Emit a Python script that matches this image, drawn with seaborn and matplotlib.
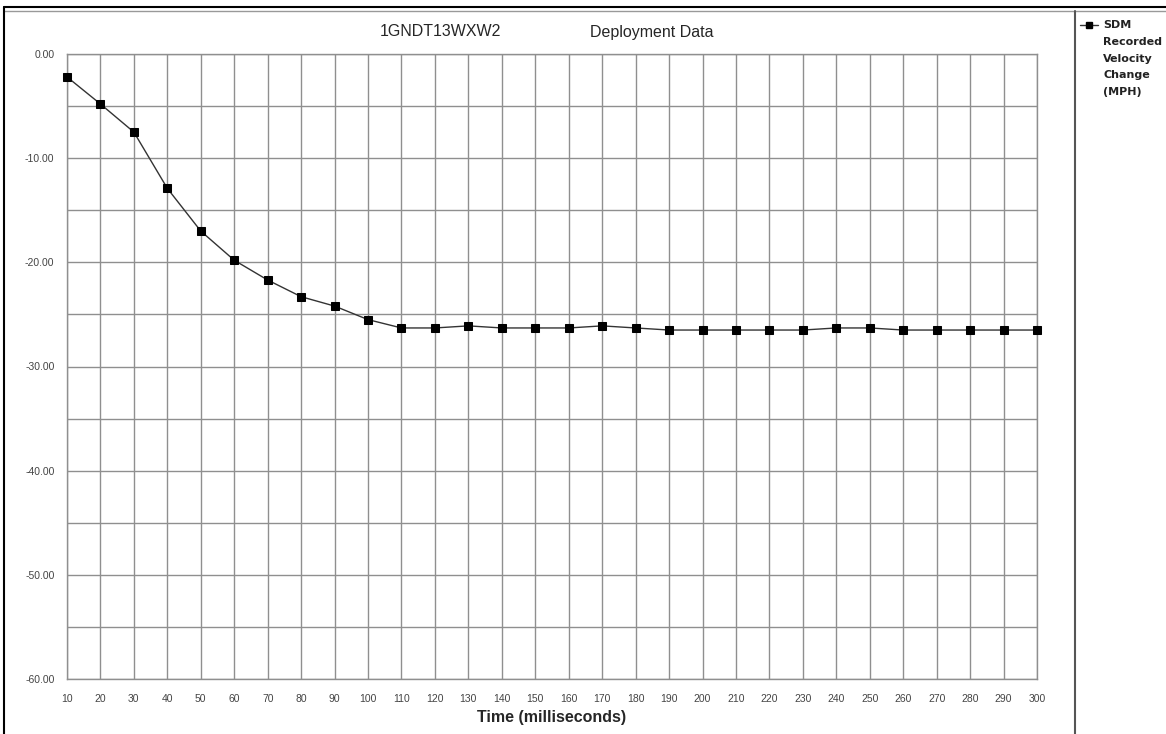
import matplotlib
matplotlib.use("Agg")
import matplotlib.pyplot as plt
from matplotlib.lines import Line2D
import seaborn as sns
import pandas as pd
import numpy as np

time_ms = [10, 20, 30, 40, 50, 60, 70, 80, 90, 100, 110, 120, 130, 140, 150,
           160, 170, 180, 190, 200, 210, 220, 230, 240, 250, 260, 270, 280, 290, 300]
velocity = [-2.2, -4.8, -7.5, -12.9, -17.0, -19.8, -21.7, -23.3, -24.2, -25.5,
            -26.3, -26.3, -26.1, -26.3, -26.3, -26.3, -26.1, -26.3, -26.5, -26.5,
            -26.5, -26.5, -26.5, -26.3, -26.3, -26.5, -26.5, -26.5, -26.5, -26.5]
series_name = "SDM\nRecorded\nVelocity\nChange\n(MPH)"
title_vin = "1GNDT13WXW2"
title_rest = "Deployment Data"
xlabel = "Time (milliseconds)"

df = pd.DataFrame({"t": time_ms, "v": velocity})

sns.set_style("white")
plt.rcParams["font.family"] = ["Liberation Sans", "DejaVu Sans"]

W, H = 1166, 734
fig = plt.figure(figsize=(W / 100, H / 100), dpi=100)
ax = fig.add_axes([67 / W, 1 - 679 / H, (1037 - 67) / W, (679 - 54) / H])

sns.lineplot(data=df, x="t", y="v", ax=ax, color="#333333", linewidth=1.0,
             marker="s", markersize=6, markerfacecolor="black",
             markeredgecolor="black", legend=False, clip_on=False, zorder=5)

ax.set_xlim(10, 300)
ax.set_ylim(-60, 0)
ax.set_xticks(time_ms)
ax.set_xticklabels([str(t) for t in time_ms], fontsize=7.5, color="#444444")
ax.set_yticks(np.arange(-60, 1, 10))
ax.set_yticklabels([f"{v:.2f}" for v in np.arange(-60, 1, 10)], fontsize=7.5, color="#444444")
ax.set_yticks(np.arange(-55, 0, 10), minor=True)
ax.grid(True, which="major", axis="both", color="#8f8f8f", linewidth=1.0)
ax.grid(True, which="minor", axis="y", color="#8f8f8f", linewidth=1.0)
ax.tick_params(axis="x", which="both", length=0, pad=11)
ax.tick_params(axis="y", which="both", length=0, pad=9)
for s in ax.spines.values():
    s.set_color("#8f8f8f")
    s.set_linewidth(1.0)
ax.set_xlabel(xlabel, fontsize=11.5, fontweight="bold", labelpad=4)
ax.set_ylabel("")

fig.text(440 / W, 1 - 32 / H, title_vin, fontsize=11.5, ha="center", va="center")
fig.text(652 / W, 1 - 32 / H, title_rest, fontsize=11.5, ha="center", va="center")

# legend (handle aligned with first text line, as in the reference)
fig.add_artist(Line2D([1080 / W, 1098 / W], [1 - 25 / H, 1 - 25 / H], color="#333333",
                      linewidth=1.0, transform=fig.transFigure))
fig.add_artist(Line2D([1089 / W], [1 - 25 / H], color="black", marker="s", markersize=5,
                      linestyle="none", transform=fig.transFigure))
fig.text(1103 / W, 1 - 20 / H, series_name, fontsize=8, fontweight="bold",
         family=["DejaVu Sans"], ha="left", va="top", linespacing=1.85, color="#222222")

# outer frame lines
fig.add_artist(Line2D([4 / W, 1], [1 - 7 / H, 1 - 7 / H], color="black", linewidth=1.5,
                      transform=fig.transFigure))
fig.add_artist(Line2D([4 / W, 1], [1 - 11 / H, 1 - 11 / H], color="#999999", linewidth=1.0,
                      transform=fig.transFigure))
fig.add_artist(Line2D([4 / W, 4 / W], [0, 1 - 7 / H], color="black", linewidth=1.5,
                      transform=fig.transFigure))
fig.add_artist(Line2D([1075 / W, 1075 / W], [0, 1 - 11 / H], color="#555555", linewidth=1.5,
                      transform=fig.transFigure))

fig.savefig("out.png", dpi=100)
